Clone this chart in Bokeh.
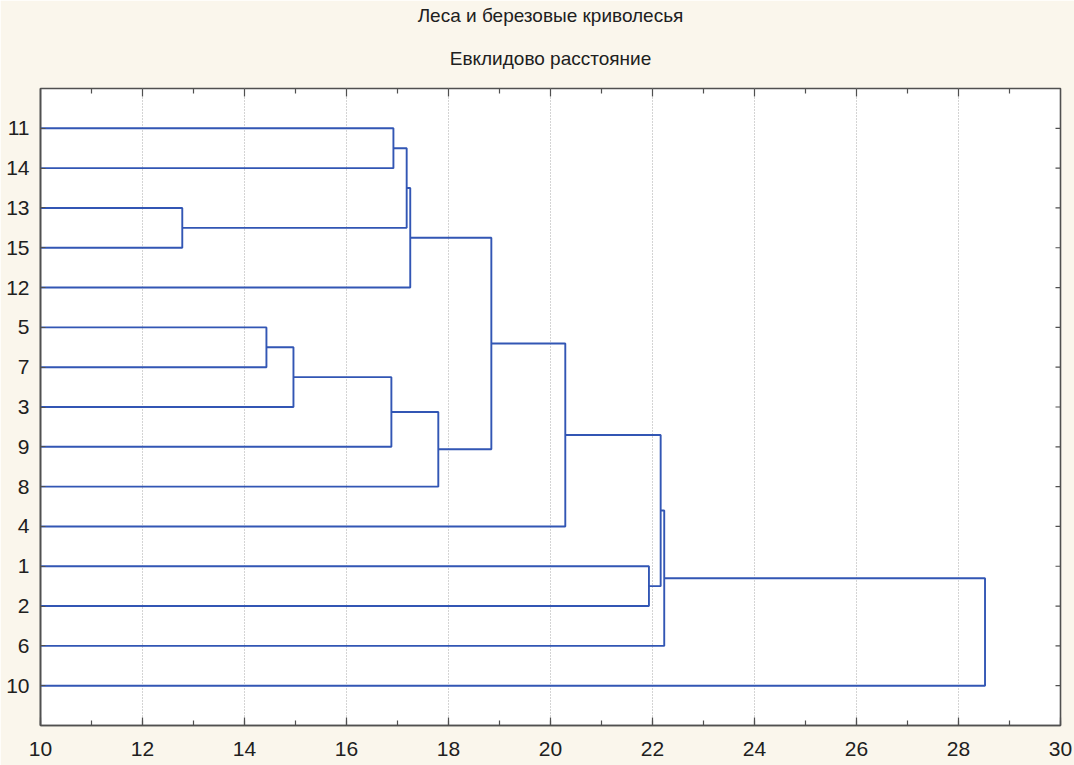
import math
from bokeh.plotting import figure
from bokeh.models import Range1d, LinearAxis, FixedTicker, SingleIntervalTicker, Title
from bokeh.embed import file_html
from bokeh.resources import INLINE

# ---- data ----
leaf_labels = ["11", "14", "13", "15", "12", "5", "7", "3", "9", "8", "4", "1", "2", "6", "10"]
# merges: (child_a, child_b, distance); leaves are "L:<label>", clusters are "C:<index>"
merge_a = ["L:13", "L:5", "C:1", "C:2", "L:11", "C:4", "C:5", "C:3", "C:6", "C:8", "L:1", "C:9", "C:11", "C:12"]
merge_b = ["L:15", "L:7", "L:3", "L:9", "L:14", "C:0", "L:12", "L:8", "C:7", "L:4", "L:2", "C:10", "L:6", "L:10"]
merge_dist = [12.78, 14.43, 14.96, 16.88, 16.92, 17.18, 17.25, 17.80, 18.84, 20.29, 21.93, 22.16, 22.23, 28.52]
x_start = 10
x_end = 30
x_major_step = 2
title_1 = "Леса и березовые криволесья"
title_2 = "Евклидово расстояние"

FONT = "Liberation Sans"
LINE = "#3256B4"
AXC = "#505050"

# positions of nodes
leaf_y = {lab: i + 1 for i, lab in enumerate(leaf_labels)}
node_x, node_y = [], []

def pos(ref):
    kind, key = ref.split(":")
    if kind == "L":
        return x_start, leaf_y[key]
    k = int(key)
    return node_x[k], node_y[k]

xs, ys = [], []
for a, b, d in zip(merge_a, merge_b, merge_dist):
    ax_, ay_ = pos(a)
    bx_, by_ = pos(b)
    xs.append([ax_, d, d, bx_])
    ys.append([ay_, ay_, by_, by_])
    node_x.append(d)
    node_y.append((ay_ + by_) / 2)

n = len(leaf_labels)
p = figure(width=1074, height=765, output_backend="svg", toolbar_location=None,
           x_range=Range1d(x_start, x_end), y_range=Range1d(n + 1, 0),
           min_border_left=40, min_border_right=14, min_border_top=88, min_border_bottom=40,
           background_fill_color="white", border_fill_color="#FAF6EC",
           x_axis_location=None, y_axis_location=None)
p.outline_line_color = AXC
p.outline_line_width = 1.6

p.multi_line(xs, ys, line_color=LINE, line_width=1.9)

# ticks on the top and right edges (inward)
major_x = list(range(x_start + x_major_step, x_end, x_major_step))
minor_x = [v + x_major_step / 2 for v in range(x_start, x_end, x_major_step)]
leaf_pos = list(range(1, n + 1))
p.ray(x=major_x, y=[0] * len(major_x), length=8, length_units="screen",
      angle=-math.pi / 2, line_color=AXC, line_width=1.2)
p.ray(x=minor_x, y=[0] * len(minor_x), length=5, length_units="screen",
      angle=-math.pi / 2, line_color=AXC, line_width=1.2)
p.ray(x=[x_end] * n, y=leaf_pos, length=5, length_units="screen",
      angle=math.pi, line_color=AXC, line_width=1.2)

xt = SingleIntervalTicker(interval=x_major_step, num_minor_ticks=2)
yt = FixedTicker(ticks=leaf_pos)

def style(ax):
    ax.axis_line_color = AXC
    ax.axis_line_width = 1.6
    ax.major_tick_line_color = AXC
    ax.minor_tick_line_color = AXC
    ax.major_tick_line_width = 1.2
    ax.minor_tick_line_width = 1.2
    ax.major_tick_out = 0
    ax.minor_tick_out = 0
    ax.major_label_text_font = FONT
    ax.major_label_text_color = "#202020"

bottom = LinearAxis(ticker=xt)
style(bottom)
bottom.major_tick_in = 8
bottom.minor_tick_in = 5
bottom.major_label_text_font_size = "21px"
bottom.major_label_standoff = 16
p.add_layout(bottom, "below")

left = LinearAxis(ticker=yt, major_label_overrides={i + 1: lab for i, lab in enumerate(leaf_labels)})
style(left)
left.major_tick_in = 5
left.minor_tick_line_color = None
left.major_label_text_font_size = "21px"
left.major_label_standoff = 11
p.add_layout(left, "left")

p.xgrid.ticker = FixedTicker(ticks=major_x)
p.xgrid.grid_line_color = "#A8A8A8"
p.xgrid.grid_line_dash = "1 2"
p.xgrid.grid_line_width = 1
p.ygrid.grid_line_color = None

p.add_layout(Title(text=title_2, align="center", text_font=FONT, text_font_size="19px",
                   text_font_style="normal", text_color="#202020", standoff=39), "above")
p.add_layout(Title(text=title_1, align="center", text_font=FONT, text_font_size="19px",
                   text_font_style="normal", text_color="#202020", standoff=1), "above")

open("out.html", "w").write(file_html(p, INLINE))
